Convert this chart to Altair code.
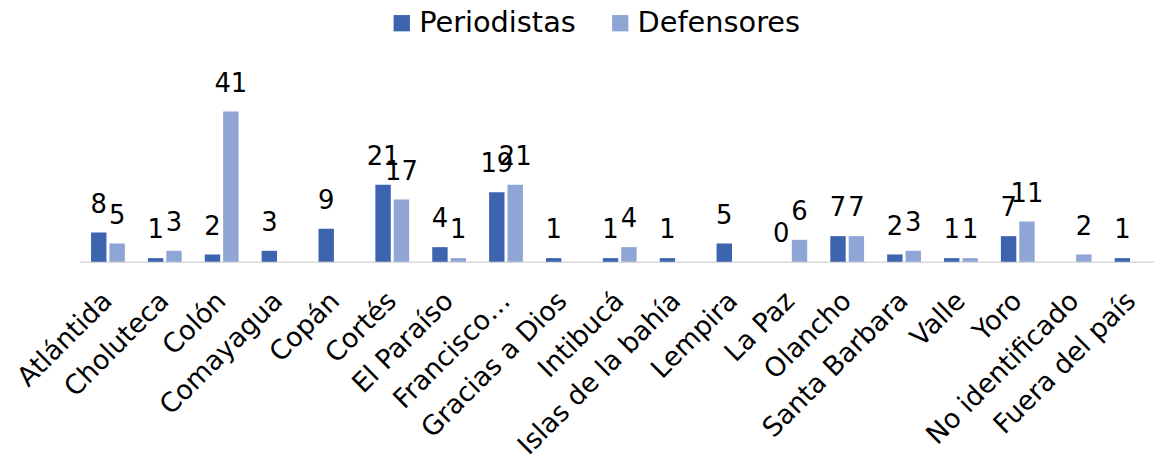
import altair as alt
import pandas as pd

categories = ["Atlántida", "Choluteca", "Colón", "Comayagua", "Copán", "Cortés",
              "El Paraíso", "Francisco…", "Gracias a Dios", "Intibucá",
              "Islas de la bahía", "Lempira", "La Paz", "Olancho", "Santa Barbara",
              "Valle", "Yoro", "No identificado", "Fuera del país"]
periodistas = [8, 1, 2, 3, 9, 21, 4, 19, 1, 1, 1, 5, 0, 7, 2, 1, 7, None, 1]
defensores = [5, 3, 41, None, None, 17, 1, 21, None, 4, None, None, 6, 7, 3, 1, 11, 2, None]
series = ["Periodistas", "Defensores"]
colors = ["#3D64AE", "#8FA5D5"]

rows = []
for c, p, d in zip(categories, periodistas, defensores):
    if p is not None:
        rows.append({"cat": c, "serie": series[0], "v": p})
    if d is not None:
        rows.append({"cat": c, "serie": series[1], "v": d})
df = pd.DataFrame(rows)

FONT = "DejaVu Sans"

x = alt.X("cat:N", sort=categories, title=None,
          scale=alt.Scale(paddingInner=0, paddingOuter=0),
          axis=alt.Axis(labelAngle=-45, labelAlign="right", labelBaseline="middle",
                        labelFontSize=27, labelFont=FONT,
                        labelColor="#000000", ticks=False, domainColor="#D9D9D9",
                        domainWidth=1.5, labelPadding=35, labelLimit=400, grid=False))
xo = alt.XOffset("serie:N", sort=series,
                 scale=alt.Scale(paddingInner=0.162, paddingOuter=0.628))
y = alt.Y("v:Q", scale=alt.Scale(domain=[0, 45]), axis=None)
color = alt.Color("serie:N", sort=series,
                  scale=alt.Scale(domain=series, range=colors),
                  legend=alt.Legend(title=None, orient="none", direction="horizontal",
                                    legendX=310, legendY=-89, symbolType="square",
                                    symbolSize=270, symbolStrokeWidth=0,
                                    labelFontSize=29, labelFont=FONT,
                                    labelColor="#000000", columnPadding=30,
                                    labelOffset=3, padding=0, labelLimit=0))

base = alt.Chart(df)
bars = base.mark_bar().encode(x=x, xOffset=xo, y=y, color=color)
labels = base.mark_text(fontSize=26, font=FONT, color="#000000",
                        baseline="alphabetic", dy=-20).encode(
    x=x, xOffset=xo, y=y, text="v:Q")

chart = (bars + labels).properties(
    width=1088, height=166,
    autosize=alt.AutoSizeParams(type="none"),
    padding={"left": 72, "top": 88, "right": -6, "bottom": 193},
).configure_view(stroke=None)

chart.save("out.html", embed_options={"renderer": "svg", "actions": False})
